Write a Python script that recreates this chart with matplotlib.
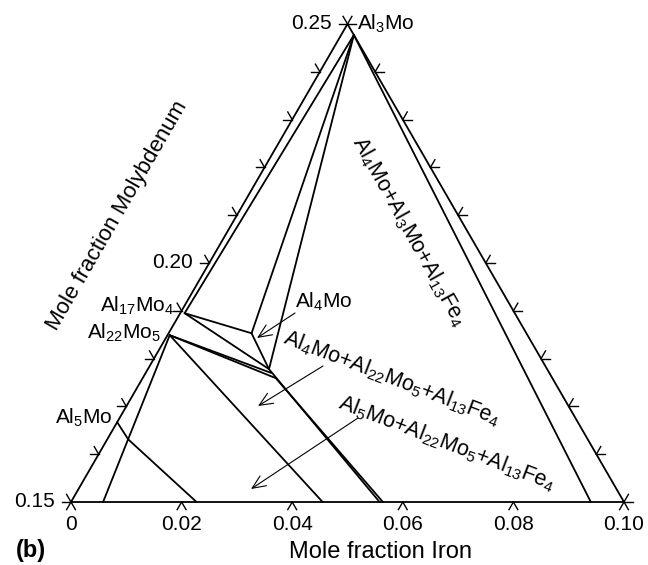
import numpy as np
import matplotlib.pyplot as plt

plt.rcParams["font.family"] = ["Liberation Sans", "DejaVu Sans"]
plt.rcParams["mathtext.fontset"] = "custom"
plt.rcParams["mathtext.rm"] = "Liberation Sans"
plt.rcParams["mathtext.default"] = "regular"

MO_MIN = 0.15
H = np.sqrt(3) / 2

# phase points as (x_Fe, x_Mo)
AL3MO = (0.0023, 0.2477)
AL17MO4 = (0.0008, 0.1895)
AL22MO5 = (0.0004, 0.1849)
AL5MO = (0.0, 0.1667)
AL5MO_KINK = (0.0038, 0.1631)
AL4MO_TOP = (0.0150, 0.1853)
AL4MO_LOW = (0.0219, 0.1778)
AL4MO_MID = (0.0227, 0.1770)
AL4MO_END = (0.0241, 0.1759)

# x_Fe where tie lines reach the x_Mo = 0.15 edge
FE_BASE_AL22MO5 = 0.0058
FE_BASE_AL5MO = 0.0227
FE_BASE_MID = 0.0455
FE_BASE_AL4MO_A = 0.0558
FE_BASE_AL4MO_B = 0.0564
FE_BASE_AL3MO = 0.094

FE_TICKS = [0.0, 0.02, 0.04, 0.06, 0.08, 0.10]
FE_TICK_LABELS = ["0", "0.02", "0.04", "0.06", "0.08", "0.10"]
MO_TICKS = [0.15, 0.16, 0.17, 0.18, 0.19, 0.20, 0.21, 0.22, 0.23, 0.24, 0.25]
MO_TICK_LABELS = {0.15: "0.15", 0.20: "0.20", 0.25: "0.25"}


def tern(fe, mo):
    return fe + (mo - MO_MIN) / 2, (mo - MO_MIN) * H


def seg(ax, *pts, lw=1.3):
    xy = np.array([tern(*p) for p in pts])
    ax.plot(xy[:, 0], xy[:, 1], color="black", lw=lw,
            solid_capstyle="round", solid_joinstyle="round")


def tick(ax, p, angles, L=0.0016):
    x0, y0 = tern(*p)
    for a in angles:
        r = np.deg2rad(a)
        ax.plot([x0, x0 + L * np.cos(r)], [y0, y0 + L * np.sin(r)],
                color="black", lw=1.0)


fig = plt.figure(figsize=(6.48, 5.65), dpi=100)
ax = fig.add_axes([0, 0, 1, 1])
ax.set_xlim(-71 / 553 * 0.1, 577 / 553 * 0.1)
ax.set_ylim(-63 / 478 * 0.1 * H, 502 / 478 * 0.1 * H)
ax.axis("off")

# triangle frame
seg(ax, (0.0, 0.15), (0.10, 0.15), (0.0, 0.25), (0.0, 0.15))

# phase boundaries / tie lines
seg(ax, AL3MO, AL17MO4)
seg(ax, AL3MO, AL4MO_TOP)
seg(ax, AL3MO, AL4MO_LOW)
seg(ax, AL4MO_TOP, AL4MO_LOW)
seg(ax, AL17MO4, AL4MO_TOP)
seg(ax, AL17MO4, AL4MO_LOW)
seg(ax, AL22MO5, AL4MO_MID)
seg(ax, AL22MO5, AL4MO_END)
seg(ax, AL4MO_LOW, (FE_BASE_AL4MO_A, 0.15))
seg(ax, AL4MO_END, (FE_BASE_AL4MO_B, 0.15))
seg(ax, AL22MO5, (FE_BASE_MID, 0.15))
seg(ax, AL22MO5, (FE_BASE_AL22MO5, 0.15))
seg(ax, AL5MO, AL5MO_KINK, (FE_BASE_AL5MO, 0.15))
seg(ax, AL3MO, (FE_BASE_AL3MO, 0.15))

# ticks
for fe, lab in zip(FE_TICKS, FE_TICK_LABELS):
    tick(ax, (fe, 0.15), (240, 300))
    ax.annotate(lab, tern(fe, 0.15), xytext=(0, -16.5),
                textcoords="offset points", ha="center", va="center",
                fontsize=15)
for mo in MO_TICKS:
    tick(ax, (0.0, mo), (180, 120))
    tick(ax, (0.25 - mo, mo), (0, 60))
    if mo in MO_TICK_LABELS:
        ax.annotate(MO_TICK_LABELS[mo], tern(0.0, mo), xytext=(-11.5, 0.5),
                    textcoords="offset points", ha="right", va="center",
                    fontsize=15)

# compound labels
lab_kw = dict(textcoords="offset points", fontsize=15, va="center")
ax.annotate("Al$_3$Mo", tern(0.0, 0.25), xytext=(7, 0), ha="left", **lab_kw)
ax.annotate("Al$_{17}$Mo$_4$", tern(*AL17MO4), xytext=(-7, 5), ha="right", **lab_kw)
ax.annotate("Al$_{22}$Mo$_5$", tern(*AL22MO5), xytext=(-6, 2), ha="right", **lab_kw)
ax.annotate("Al$_5$Mo", tern(*AL5MO), xytext=(-3.5, 3), ha="right", **lab_kw)

arrow_kw = dict(arrowstyle="->,head_length=0.8,head_width=0.35",
                color="black", lw=0.8, mutation_scale=12,
                shrinkA=0, shrinkB=0)
ax.annotate("", xy=tern(0.01648, 0.18431), xytext=tern(0.02074, 0.18954),
            arrowprops=arrow_kw)
ax.annotate("", xy=tern(0.02378, 0.17008), xytext=tern(0.03134, 0.17845),
            arrowprops=arrow_kw)
ax.annotate("", xy=tern(0.03119, 0.15272), xytext=tern(0.04311, 0.16757),
            arrowprops=arrow_kw)

ax.text(*tern(0.02074, 0.18954), "Al$_4$Mo", fontsize=15, ha="left",
        va="bottom")
ax.text(*tern(0.02153, 0.18326), "Al$_4$Mo+Al$_{22}$Mo$_5$+Al$_{13}$Fe$_4$",
        fontsize=15.5, rotation=-21, rotation_mode="anchor",
        ha="left", va="baseline")
ax.text(*tern(0.03827, 0.16967), "Al$_5$Mo+Al$_{22}$Mo$_5$+Al$_{13}$Fe$_4$",
        fontsize=15.5, rotation=-21, rotation_mode="anchor",
        ha="left", va="baseline")
ax.text(*tern(0.01364, 0.22615), "Al$_4$Mo+Al$_3$Mo+Al$_{13}$Fe$_4$",
        fontsize=15.5, rotation=-61, rotation_mode="anchor",
        ha="left", va="center")

# axis titles
ax.annotate("Mole fraction Molybdenum", tern(0.0, 0.21), xytext=(-86, 0),
            textcoords="offset points", ha="center", va="center",
            rotation=60, rotation_mode="anchor", fontsize=16)
fig.text(381 / 648, 1 - 552 / 565, "Mole fraction Iron", ha="center",
         va="center", fontsize=17)
fig.text(31 / 648, 1 - 550 / 565, "(b)", ha="center", va="center",
         fontsize=17, fontweight="bold")

fig.savefig("out.png", dpi=100)
